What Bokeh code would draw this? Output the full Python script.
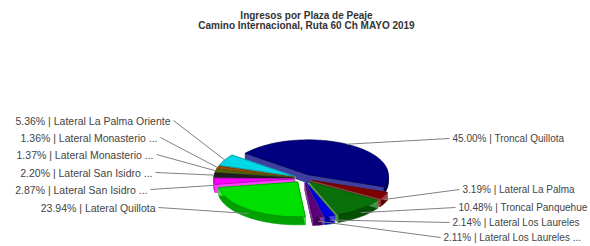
import numpy as np
from bokeh.plotting import figure
from bokeh.models import Range1d
from bokeh.embed import file_html
from bokeh.resources import INLINE
from bokeh.core.properties import value

# ---------------- data ----------------
title_lines = ["Ingresos por Plaza de Peaje",
               "Camino Internacional, Ruta 60 Ch MAYO 2019"]
plazas = ["Troncal Quillota", "Lateral La Palma", "Troncal Panquehue",
          "Lateral Los Laureles", "Lateral Los Laureles ...", "Lateral Quillota",
          "Lateral San Isidro ...", "Lateral San Isidro ...",
          "Lateral Monasterio ...", "Lateral Monasterio ...",
          "Lateral La Palma Oriente"]
percent = [45.00, 3.19, 10.48, 2.14, 2.11, 23.94, 2.87, 2.20, 1.37, 1.36, 5.36]
colors = ["#000080", "#800000", "#0a700a", "#0000e0", "#600080", "#00e000",
          "#ff00ff", "#202020", "#556b00", "#994d00", "#00d8e8"]

# ---------------- layout ----------------
W, H = 590, 246
CX, CY = 303, 68          # pie centre (pixel-like data units)
A, B = 80, 35             # ellipse semi axes
DEPTH = 8
EXPLODE = 0.12
START = 142.0             # degrees, slices go clockwise
FONT = value("Liberation Sans")

# label anchors: left labels right-aligned at x, right labels left-aligned at x
label_side = ["R", "R", "R", "R", "R", "L", "L", "L", "L", "L", "L"]
label_xy = [(452, 108), (462, 57), (458, 39), (452, 24), (443, 9),
            (155, 39), (147, 57), (152, 74), (153, 92), (157, 109), (170, 126)]


def rgb(hexcol):
    h = hexcol.lstrip("#")
    return [int(h[i:i + 2], 16) for i in (0, 2, 4)]


def shade(hexcol, f):
    r, g, b = rgb(hexcol)
    return "#%02x%02x%02x" % (int(r * f), int(g * f), int(b * f))


def tint(hexcol, f):
    r, g, b = rgb(hexcol)
    return "#%02x%02x%02x" % tuple(int(c + (255 - c) * f) for c in (r, g, b))


p = figure(width=W, height=H, output_backend="svg", toolbar_location=None,
           x_range=Range1d(0, W), y_range=Range1d(0, H), min_border=0)
p.axis.visible = False
p.grid.visible = False
p.outline_line_color = None
p.background_fill_color = "white"

vals = np.array(percent, dtype=float)
fr = vals / vals.sum()
ends = START - np.cumsum(fr) * 360.0
starts = ends + fr * 360.0
mids = (starts + ends) / 2.0

slices = []
for i in range(len(vals)):
    t = np.radians(np.linspace(starts[i], ends[i], max(4, int(fr[i] * 240))))
    m = np.radians(mids[i])
    ox, oy = CX + EXPLODE * A * np.cos(m), CY + EXPLODE * B * np.sin(m)
    xs = np.concatenate([[ox], ox + A * np.cos(t)])
    ys = np.concatenate([[oy], oy + B * np.sin(t)])
    slices.append((xs, ys, ox, oy, m))

order = sorted(range(len(vals)), key=lambda i: -np.sin(np.radians(mids[i])))
px, py, fc, lc = [], [], [], []
for i in order:
    xs, ys, ox, oy, m = slices[i]
    side = shade(colors[i], 0.72)
    for k in range(DEPTH, 0, -1):
        px.append(list(xs)); py.append(list(ys - k))
        fc.append(side); lc.append(side)
    # radial faces
    face = tint(colors[i], 0.25)
    for j in (1, len(xs) - 1):
        ex, ey = xs[j], ys[j]
        px.append([ox, ex, ex, ox]); py.append([oy, ey, ey - DEPTH, oy - DEPTH])
        fc.append(face); lc.append(face)
    px.append(list(xs)); py.append(list(ys))
    fc.append(colors[i]); lc.append(shade(colors[i], 0.55))
p.patches(px, py, fill_color=fc, line_color=lc, line_width=0.6)

# leaders + labels
for i in range(len(vals)):
    xs, ys, ox, oy, m = slices[i]
    axp = ox + A * np.cos(m)
    ayp = oy + B * np.sin(m) - (DEPTH * 0.5 if np.sin(m) < 0 else 0)
    lx, ly = label_xy[i]
    txt = "%.2f%% | %s" % (percent[i], plazas[i])
    if label_side[i] == "L":
        p.line([lx + 3, axp], [ly, ayp], line_color="#808080", line_width=1)
        p.text([lx], [ly], text=[txt], text_align="right", text_baseline="middle",
               text_font=FONT, text_font_size="10.5px", text_color="#444444")
    else:
        p.line([axp, lx - 3], [ayp, ly], line_color="#808080", line_width=1)
        p.text([lx], [ly], text=[txt], text_align="left", text_baseline="middle",
               text_font=FONT, text_font_size="10px", text_color="#444444")

p.text([306, 306], [231, 221], text=title_lines, text_align="center",
       text_baseline="middle", text_font=FONT, text_font_size="10px",
       text_font_style="bold", text_color="#333333")

open("out.html", "w").write(file_html(p, INLINE))
